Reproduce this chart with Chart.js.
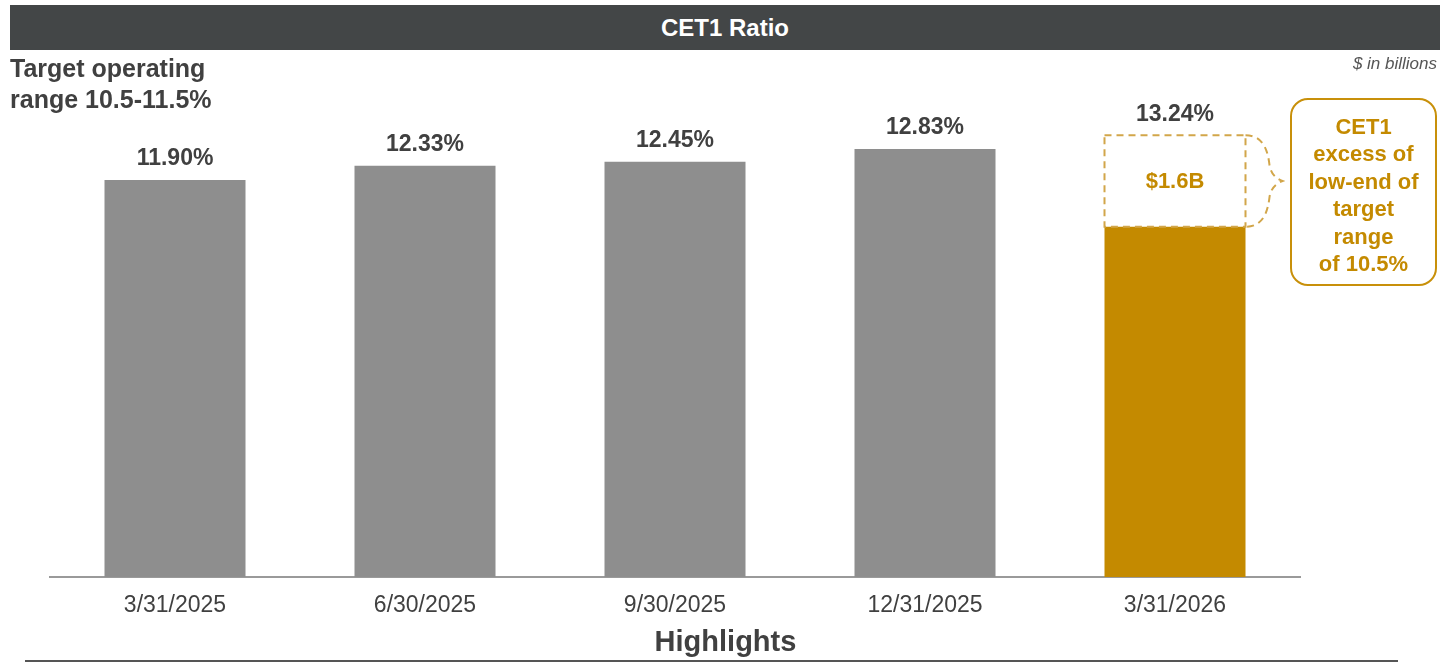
<!DOCTYPE html>
<html>
<head>
<meta charset="utf-8">
<script src="https://cdn.jsdelivr.net/npm/chart.js@4.4.1/dist/chart.umd.min.js"></script>
<style>
body{margin:0;background:#fff;font-family:"Liberation Sans",Arial,sans-serif}
#wrap{position:relative;width:1451px;height:663px;overflow:hidden}
#wrap canvas{position:absolute;left:0;top:0}
.hd{position:absolute;left:10px;top:5px;width:1430px;height:45px;background:#434647;color:#fff;font-weight:bold;font-size:24px;line-height:45px;text-align:center}
.sub{position:absolute;left:10px;top:53px;font-weight:bold;font-size:25px;line-height:31px;color:#404040}
.unit{position:absolute;right:14px;top:54px;font-style:italic;font-size:17px;color:#555}
.call{position:absolute;left:1290px;top:98px;width:147px;height:188px;border:2px solid #C8900A;border-radius:18px;color:#C48A00;font-weight:bold;font-size:22px;line-height:27.4px;text-align:center;padding-top:13px;box-sizing:border-box}
.hl{position:absolute;left:0;width:1451px;top:625px;text-align:center;font-weight:bold;font-size:29px;color:#404040}
.rule{position:absolute;left:25px;top:660px;width:1373px;height:2px;background:#555}
</style>
</head>
<body>
<div id="wrap">
  <canvas id="c" width="1451" height="663"></canvas>
  <div class="hd">CET1 Ratio</div>
  <div class="sub">Target operating<br>range 10.5-11.5%</div>
  <div class="unit">$ in billions</div>
  <div class="call">CET1<br>excess of<br>low-end of<br>target<br>range<br>of 10.5%</div>
  <div class="hl">Highlights</div>
  <div class="rule"></div>
</div>
<script>
// data
const categories = ['3/31/2025', '6/30/2025', '9/30/2025', '12/31/2025', '3/31/2026'];
const ratios = [11.90, 12.33, 12.45, 12.83, 13.24];
const targetLow = 10.5;
const excessLabel = '$1.6B';

const last = ratios.length - 1;
const baseValues = ratios.map((v, i) => i === last ? targetLow : v);
const excessValues = ratios.map((v, i) => i === last ? +(v - targetLow).toFixed(2) : 0);
const barColors = ratios.map((v, i) => i === last ? '#C48A00' : '#8E8E8E');

const decor = {
  id: 'decor',
  afterDatasetsDraw(chart) {
    const ctx = chart.ctx, y = chart.scales.y;
    const base = chart.getDatasetMeta(0).data;
    ctx.save();
    // value labels
    ctx.fillStyle = '#404040';
    ctx.font = 'bold 23px "Liberation Sans", Arial, sans-serif';
    ctx.textAlign = 'center';
    ctx.textBaseline = 'middle';
    ratios.forEach((v, i) => {
      ctx.fillText(v.toFixed(2) + '%', base[i].x, y.getPixelForValue(v) - 21);
    });
    // dashed excess box
    const el = chart.getDatasetMeta(1).data[last];
    const l = el.x - el.width / 2, r = el.x + el.width / 2, t = el.y, b = el.base;
    ctx.strokeStyle = '#D2A64A';
    ctx.lineWidth = 2;
    ctx.setLineDash([7, 5]);
    ctx.strokeRect(l, t, r - l, b - t);
    // brace
    const m = (t + b) / 2;
    ctx.beginPath();
    ctx.moveTo(r, t);
    ctx.bezierCurveTo(r + 16, t, r + 22, t + 12, r + 24, m - 16);
    ctx.quadraticCurveTo(r + 26, m - 4, r + 37, m);
    ctx.quadraticCurveTo(r + 26, m + 4, r + 24, m + 16);
    ctx.bezierCurveTo(r + 22, b - 12, r + 16, b, r, b);
    ctx.stroke();
    ctx.setLineDash([]);
    ctx.fillStyle = '#C48A00';
    ctx.font = 'bold 22px "Liberation Sans", Arial, sans-serif';
    ctx.fillText(excessLabel, el.x, m + 1);
    ctx.restore();
  }
};

new Chart(document.getElementById('c'), {
  type: 'bar',
  data: {
    labels: categories,
    datasets: [
      { data: baseValues, backgroundColor: barColors, barPercentage: 0.564, categoryPercentage: 1 },
      { data: excessValues, backgroundColor: 'rgba(0,0,0,0)', barPercentage: 0.564, categoryPercentage: 1 }
    ]
  },
  options: {
    responsive: false,
    animation: false,
    layout: { padding: { left: 50, right: 151, top: 110, bottom: 0 } },
    plugins: { legend: { display: false }, tooltip: { enabled: false } },
    scales: {
      x: {
        stacked: true,
        grid: { display: false, drawTicks: false },
        border: { display: true, color: '#9A9A9A', width: 2 },
        ticks: { color: '#404040', font: { family: '"Liberation Sans", Arial, sans-serif', size: 23 }, padding: 15 },
        afterFit: s => { s.height = 86; }
      },
      y: { stacked: true, display: false, min: 0, max: 14 }
    }
  },
  plugins: [decor]
});
</script>
</body>
</html>
